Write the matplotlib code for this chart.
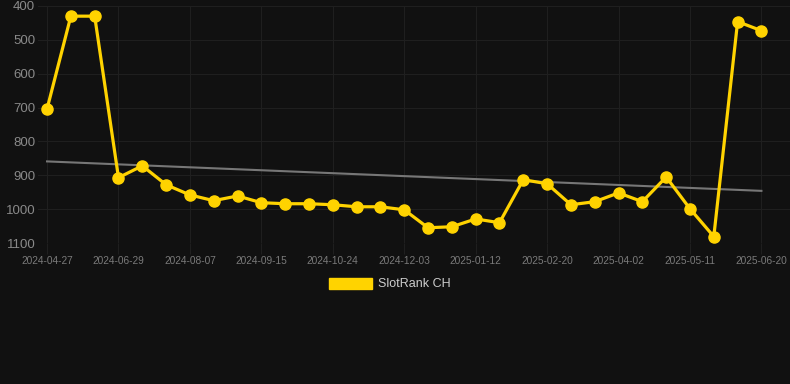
import matplotlib
matplotlib.use("Agg")
import matplotlib.pyplot as plt
from matplotlib.patches import Patch

plt.rcParams['font.family'] = ['Liberation Sans', 'DejaVu Sans']

# rank per point (lower is better, axis inverted)
ranks = [704, 430, 430, 907, 872, 928, 958, 975, 961, 981, 984, 984, 987, 993, 993,
         1002, 1055, 1052, 1029, 1040, 913, 925, 987, 978, 952, 978, 905, 999, 1081,
         446, 473]
tick_labels = ['2024-04-27', '2024-06-29', '2024-08-07', '2024-09-15', '2024-10-24',
               '2024-12-03', '2025-01-12', '2025-02-20', '2025-04-02', '2025-05-11',
               '2025-06-20']
trend = [859, 946]

bg = '#111111'
fig = plt.figure(figsize=(7.9, 3.84), dpi=100, facecolor=bg)
ax = fig.add_axes([38/790, 1 - 243/384, 1 - 38/790, (243 - 6)/384])
ax.set_facecolor(bg)

x = list(range(len(ranks)))
ax.plot([x[0], x[-1]], trend, color='#777777', lw=1.5, zorder=2)
ax.plot(x, ranks, color='#FFD300', lw=2.3, marker='o', ms=8, zorder=3)

ax.set_ylim(1100, 400)
ax.set_xlim(-0.38, 31.2)
ax.set_yticks([400, 500, 600, 700, 800, 900, 1000, 1100])
ax.set_xticks(x[::3])
ax.set_xticklabels(tick_labels)

ax.grid(True, color='#1f1f1f', lw=0.8)
for s in ax.spines.values():
    s.set_visible(False)
ax.tick_params(axis='y', length=0, labelsize=9.5, labelcolor='#8a8a8a', pad=2)
ax.tick_params(axis='x', length=8, color='#1f1f1f', labelsize=7.3, labelcolor='#7a7a7a', pad=1)

fig.legend(handles=[Patch(facecolor='#FFD300', edgecolor='#FFD300')], labels=['SlotRank CH'],
           loc='center', bbox_to_anchor=(390/790, 1 - 284/384), frameon=False,
           handlelength=3.4, handleheight=1.0, handletextpad=0.5,
           fontsize=9, labelcolor='#cccccc')

fig.savefig('out.png', dpi=100, facecolor=bg)
